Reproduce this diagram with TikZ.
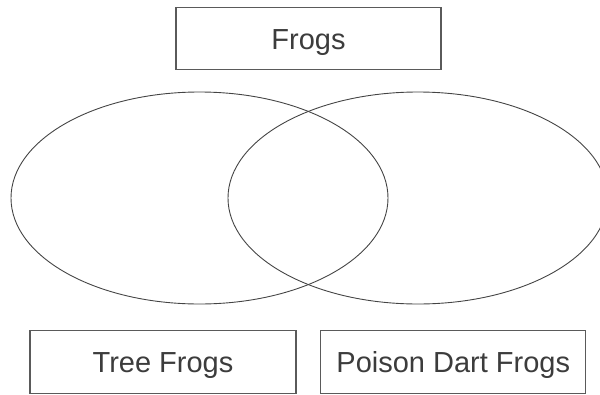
\documentclass[tikz,border=0pt]{standalone}
\usepackage{fontspec}
\setmainfont{Liberation Sans}
\usetikzlibrary{shapes.geometric}
\definecolor{boxgray}{HTML}{5A5A5A}
\definecolor{ringgray}{HTML}{444444}
\definecolor{textgray}{HTML}{3C3C3C}
\begin{document}
\begin{tikzpicture}[x=1pt,y=-1pt,
  labelbox/.style={draw=boxgray, line width=1.2pt, rectangle, inner sep=0pt,
    minimum width=#1, minimum height=62.5pt, text height=21pt, text depth=0pt,
    text=textgray, font=\fontsize{29}{34}\selectfont},
  ring/.style 2 args={draw=ringgray, line width=0.9pt, ellipse, inner sep=0pt,
    minimum width=#1, minimum height=#2}]
\useasboundingbox (0,0) rectangle (600,394);
\node[ring={377pt}{212pt}] (tree) at (199.5,198) {};
\node[ring={380pt}{212pt}] (dart) at (418,198) {};
\node[labelbox=265pt] (frogs) at (308.5,38.5) {Frogs};
\node[labelbox=266pt] (treelbl) at (163,362) {Tree Frogs};
\node[labelbox=265pt] (dartlbl) at (453.3,362) {Poison Dart Frogs};
\end{tikzpicture}
\end{document}
